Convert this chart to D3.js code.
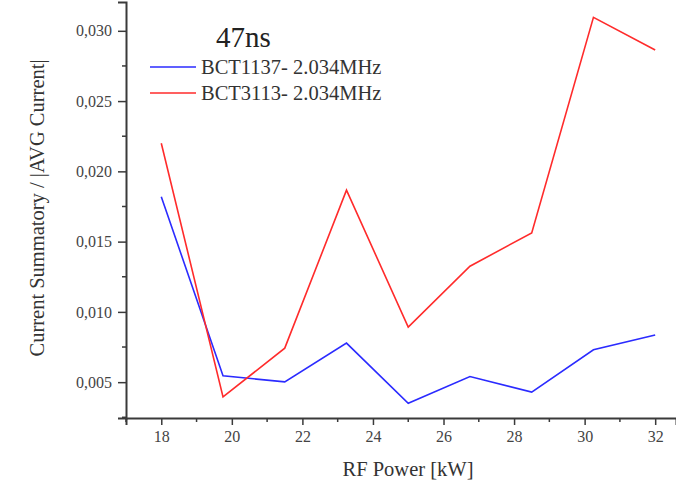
<!DOCTYPE html>
<html>
<head>
<meta charset="utf-8">
<script src="https://cdn.jsdelivr.net/npm/d3@7"></script>
<style>
  html, body { margin: 0; padding: 0; background: #fff; }
  svg { display: block; }
  text { font-family: "Liberation Serif", "Times New Roman", serif; }
</style>
</head>
<body>
<svg id="chart" width="676" height="488"></svg>
<script>
// RF power settings (kW)
const rfPower = [18, 19.75, 21.5, 23.25, 25, 26.75, 28.5, 30.25, 32];
// Current summatory / |AVG current| for each BCT
const bct1137 = [0.0182, 0.00545, 0.00502, 0.00778, 0.0035, 0.0054, 0.00429, 0.0073, 0.00835];
const bct3113 = [0.0220, 0.00395, 0.00742, 0.01866, 0.00892, 0.01325, 0.01562, 0.03096, 0.02864];
const seriesNames = ["BCT1137- 2.034MHz", "BCT3113- 2.034MHz"];
const seriesColors = ["#2b2bff", "#ff2b2b"];
const xTicks = [18, 20, 22, 24, 26, 28, 30, 32];
const yTicks = [0.005, 0.010, 0.015, 0.020, 0.025, 0.030];
const title = "47ns";

const svg = d3.select("#chart");
const plotLeft = 126, plotRight = 676, plotTop = 2, plotBottom = 418;

const x = d3.scaleLinear().domain([17, 32.59]).range([plotLeft, plotRight]);
const y = d3.scaleLinear().domain([0.00245, 0.03205]).range([plotBottom, plotTop]);

const axisColor = "#3a3a3a";
const labelColor = "#444";
const serif = "Liberation Serif, serif";

// minor ticks
const xMinor = d3.range(17, 33, 1).filter(v => v % 2 === 1);
const yMinor = d3.range(0.0025, 0.032, 0.005);

function styleAxis(g) {
  g.attr("font-family", serif).attr("font-size", 16);
  g.select(".domain").attr("stroke", axisColor).attr("stroke-width", 2);
  g.selectAll(".tick line").attr("stroke", axisColor).attr("stroke-width", 1.5);
  g.selectAll(".tick text").attr("fill", labelColor);
}

const gx = svg.append("g").attr("transform", `translate(0,${plotBottom})`);
gx.selectAll("line.minor").data(xMinor).join("line")
  .attr("x1", d => x(d)).attr("x2", d => x(d)).attr("y1", 0).attr("y2", 4)
  .attr("stroke", axisColor).attr("stroke-width", 1.5);
gx.call(d3.axisBottom(x).tickValues(xTicks).tickSize(7).tickPadding(6).tickFormat(d3.format("d")))
  .call(styleAxis);

const commaFmt = v => d3.format(".3f")(v).replace(".", ",");
const gy = svg.append("g").attr("transform", `translate(${plotLeft},0)`);
gy.selectAll("line.minor").data(yMinor).join("line")
  .attr("x1", -4).attr("x2", 0).attr("y1", d => y(d)).attr("y2", d => y(d))
  .attr("stroke", axisColor).attr("stroke-width", 1.5);
gy.call(d3.axisLeft(y).tickValues(yTicks).tickSize(8).tickPadding(6).tickFormat(commaFmt))
  .call(styleAxis);

// data lines
const line = d3.line().x((d, i) => x(rfPower[i])).y(d => y(d));
[bct1137, bct3113].forEach((vals, k) => {
  svg.append("path").datum(vals)
    .attr("d", line)
    .attr("fill", "none")
    .attr("stroke", seriesColors[k])
    .attr("stroke-width", 1.6)
    .attr("stroke-linejoin", "miter");
});

// title and legend
svg.append("text").attr("x", 216).attr("y", 47)
  .attr("fill", "#222").style("font-size", "29px").text(title);

seriesNames.forEach((name, k) => {
  const ly = 67 + k * 26;
  svg.append("line").attr("x1", 150).attr("x2", 196).attr("y1", ly).attr("y2", ly)
    .attr("stroke", seriesColors[k]).attr("stroke-width", 1.6);
  svg.append("text").attr("x", 201).attr("y", ly + 7)
    .attr("fill", "#333").style("font-size", "20.5px").text(name);
});

// axis titles
svg.append("text").attr("x", 408).attr("y", 476).attr("text-anchor", "middle")
  .attr("fill", "#333").style("font-size", "20.5px").text("RF Power [kW]");
svg.append("text").attr("transform", "translate(44,208) rotate(-90)")
  .attr("text-anchor", "middle").attr("fill", "#333").style("font-size", "20.5px")
  .text("Current Summatory / |AVG Current|");
</script>
</body>
</html>
